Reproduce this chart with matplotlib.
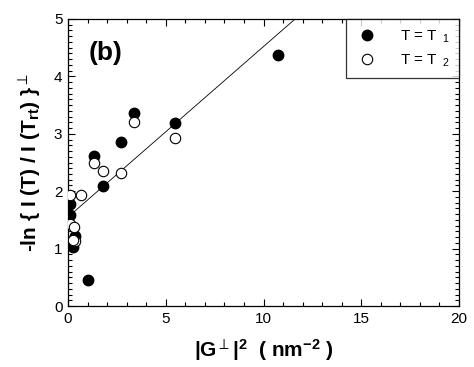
import matplotlib
matplotlib.use("Agg")
import matplotlib.pyplot as plt
import numpy as np
from matplotlib.ticker import MultipleLocator
from matplotlib import font_manager

names = {f.name for f in font_manager.fontManager.ttflist}
tickfont = 'Liberation Sans Narrow' if 'Liberation Sans Narrow' in names else 'Liberation Sans'

plt.rcParams['font.family'] = ['Liberation Sans', 'DejaVu Sans']
plt.rcParams['mathtext.fontset'] = 'custom'
plt.rcParams['mathtext.rm'] = 'Liberation Sans:bold'
plt.rcParams['mathtext.it'] = 'Liberation Sans:bold'
plt.rcParams['mathtext.bf'] = 'Liberation Sans:bold'
plt.rcParams['mathtext.sf'] = 'Liberation Sans'

# data
x_t1 = [10.76, 5.47, 3.39, 2.69, 1.31, 1.77, 1.04, 0.10, 0.10, 0.36, 0.24]
y_t1 = [4.38, 3.19, 3.37, 2.85, 2.61, 2.09, 0.45, 1.78, 1.59, 1.22, 1.03]
x_t2 = [5.47, 3.39, 2.69, 1.77, 1.31, 0.66, 0.10, 0.10, 0.30, 0.37, 0.25]
y_t2 = [2.92, 3.20, 2.31, 2.35, 2.50, 1.93, 1.93, 1.43, 1.38, 1.14, 1.15]
fit_intercept = 1.55
fit_slope = 0.297
xticks = [0, 5, 10, 15, 20]
yticks = [0, 1, 2, 3, 4, 5]

fig = plt.figure(figsize=(4.74, 3.67), dpi=100)
ax = fig.add_axes([68/474, 1-306/367, 391/474, 287/367])

xf = np.linspace(0, 20, 200)
ax.plot(xf, fit_intercept + fit_slope*xf, color='black', lw=0.6)
ax.plot(x_t1, y_t1, 'o', color='black', ms=7.5, mec='black',
        label=r'T = T$_{\,\,\,\,\mathsf{1}}$', zorder=3)
ax.plot(x_t2, y_t2, 'o', mfc='white', mec='black', ms=7.5, mew=0.8,
        label=r'T = T$_{\,\,\,\,\mathsf{2}}$', zorder=3)

ax.set_xlim(0, 20)
ax.set_ylim(0, 5)
ax.set_xticks(xticks)
ax.set_yticks(yticks)
ax.xaxis.set_minor_locator(MultipleLocator(1))
ax.yaxis.set_minor_locator(MultipleLocator(0.1))
ax.tick_params(which='both', direction='in', top=True, right=True, width=0.8)
ax.tick_params(which='major', length=5, labelsize=11, pad=4)
ax.tick_params(which='minor', length=3)
for lab in ax.get_xticklabels() + ax.get_yticklabels():
    lab.set_fontfamily(tickfont)
for s in ax.spines.values():
    s.set_linewidth(0.9)

ax.set_xlabel(r'|G$^{\perp}$|$^{2}$  ( nm$^{-2}$ )', fontsize=15, fontweight='bold', labelpad=8)
ax.set_ylabel(r'-ln { I (T) / I (T$_{\rm rt}$) }$^{\perp}$', fontsize=15, fontweight='bold', labelpad=8)

ax.text(0.095, 0.88, '(b)', transform=ax.transAxes, fontsize=19, fontweight='bold',
        ha='center', va='center')

leg = ax.legend(loc='upper right', bbox_to_anchor=(1.0, 1.0), frameon=True, fancybox=False,
                edgecolor='black', fontsize=11, borderaxespad=0, handletextpad=1.4,
                borderpad=0.6, labelspacing=0.5, handlelength=1.5)
leg.get_frame().set_linewidth(0.9)

fig.savefig('out.png', dpi=100)
